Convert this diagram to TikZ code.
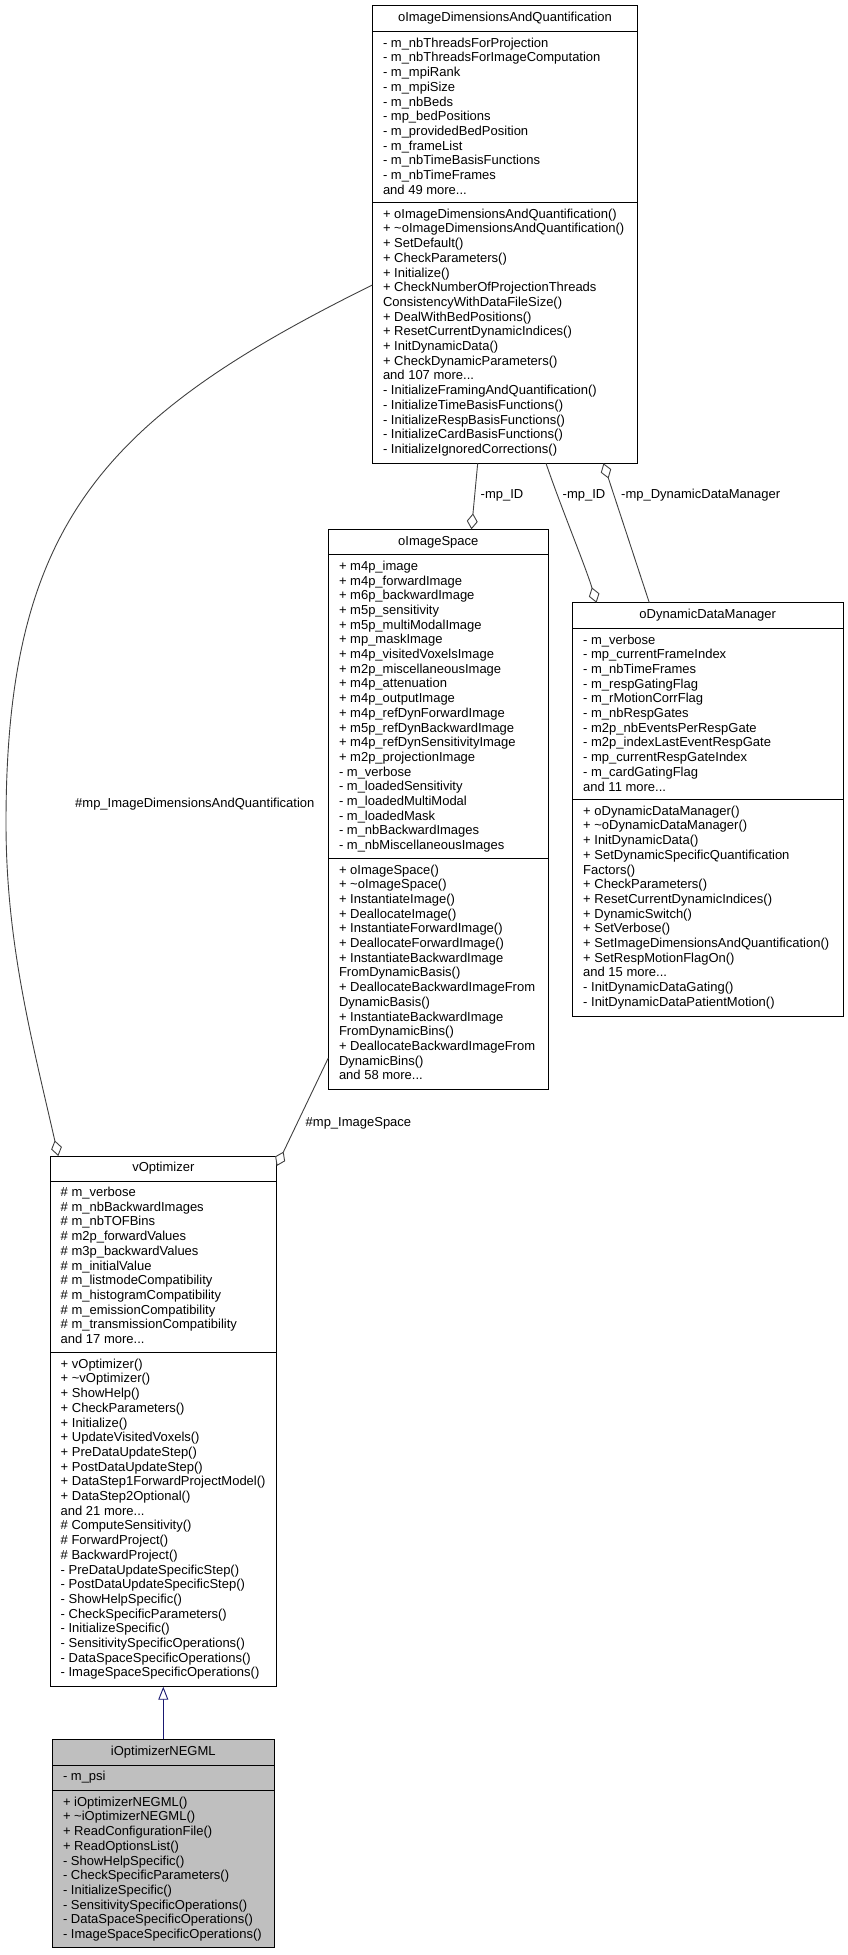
\documentclass[tikz,border=0pt]{standalone}
\usepackage{fontspec}
\setmainfont{Liberation Sans}
\usetikzlibrary{arrows.meta,calc}
\definecolor{edgec}{HTML}{404040}
\definecolor{navyc}{HTML}{191970}
\definecolor{graybg}{HTML}{BFBFBF}
\newcommand\fs{\fontsize{13pt}{14.7pt}\selectfont}
\newcommand\mystrut{\rule{0pt}{11pt}}
\tikzset{
  cls/.style={draw=black, line width=1pt, fill=white, inner sep=0pt, outer sep=0pt, anchor=north west},
  ttl/.style={anchor=base, inner sep=0pt, font=\fs},
  sec/.style={anchor=north west, align=left, inner sep=0pt, font=\fs},
  lbl/.style={anchor=base west, inner sep=0pt, font=\fs},
  sepl/.style={draw=black, line width=1pt},
  agg/.style={draw=edgec, line width=0.9pt, -{Diamond[length=16pt,width=11pt,fill=white]}},
  inh/.style={draw=navyc, line width=0.9pt, -{Triangle[length=13pt,width=10pt,fill=white]}}
}
\begin{document}
\begin{tikzpicture}[x=1pt,y=-1pt]
\useasboundingbox (0,0) rectangle (848,1955);

% ---------- oImageDimensionsAndQuantification ----------
\node[cls, minimum width=265.4pt, minimum height=457.6pt] (A) at (372.3,5.7) {};
\draw[sepl] ($(A.north west)+(0,26)$) -- ($(A.north east)+(0,26)$);
\draw[sepl] ($(A.north west)+(0,197)$) -- ($(A.north east)+(0,197)$);
\node[ttl] (A-t) at ($(A.north)+(0,15.7)$) {oImageDimensionsAndQuantification};
\node[sec] (A-a) at ($(A.north west)+(10.5,30.3)$) {\mystrut - m\_nbThreadsForProjection\\
- m\_nbThreadsForImageComputation\\
- m\_mpiRank\\
- m\_mpiSize\\
- m\_nbBeds\\
- mp\_bedPositions\\
- m\_providedBedPosition\\
- m\_frameList\\
- m\_nbTimeBasisFunctions\\
- m\_nbTimeFrames\\
and 49 more...};
\node[sec] (A-m) at ($(A.north west)+(10.5,201.3)$) {\mystrut + oImageDimensionsAndQuantification()\\
+ \textasciitilde oImageDimensionsAndQuantification()\\
+ SetDefault()\\
+ CheckParameters()\\
+ Initialize()\\
+ CheckNumberOfProjectionThreads\\
ConsistencyWithDataFileSize()\\
+ DealWithBedPositions()\\
+ ResetCurrentDynamicIndices()\\
+ InitDynamicData()\\
+ CheckDynamicParameters()\\
and 107 more...\\
- InitializeFramingAndQuantification()\\
- InitializeTimeBasisFunctions()\\
- InitializeRespBasisFunctions()\\
- InitializeCardBasisFunctions()\\
- InitializeIgnoredCorrections()};

% ---------- oImageSpace ----------
\node[cls, minimum width=220pt, minimum height=560pt] (B) at (328.3,529.3) {};
\draw[sepl] ($(B.north west)+(0,25.5)$) -- ($(B.north east)+(0,25.5)$);
\draw[sepl] ($(B.north west)+(0,329.2)$) -- ($(B.north east)+(0,329.2)$);
\node[ttl] (B-t) at ($(B.north)+(0,15.7)$) {oImageSpace};
\node[sec] (B-a) at ($(B.north west)+(10.5,29.8)$) {\mystrut + m4p\_image\\
+ m4p\_forwardImage\\
+ m6p\_backwardImage\\
+ m5p\_sensitivity\\
+ m5p\_multiModalImage\\
+ mp\_maskImage\\
+ m4p\_visitedVoxelsImage\\
+ m2p\_miscellaneousImage\\
+ m4p\_attenuation\\
+ m4p\_outputImage\\
+ m4p\_refDynForwardImage\\
+ m5p\_refDynBackwardImage\\
+ m4p\_refDynSensitivityImage\\
+ m2p\_projectionImage\\
- m\_verbose\\
- m\_loadedSensitivity\\
- m\_loadedMultiModal\\
- m\_loadedMask\\
- m\_nbBackwardImages\\
- m\_nbMiscellaneousImages};
\node[sec] (B-m) at ($(B.north west)+(10.5,333.5)$) {\mystrut + oImageSpace()\\
+ \textasciitilde oImageSpace()\\
+ InstantiateImage()\\
+ DeallocateImage()\\
+ InstantiateForwardImage()\\
+ DeallocateForwardImage()\\
+ InstantiateBackwardImage\\
FromDynamicBasis()\\
+ DeallocateBackwardImageFrom\\
DynamicBasis()\\
+ InstantiateBackwardImage\\
FromDynamicBins()\\
+ DeallocateBackwardImageFrom\\
DynamicBins()\\
and 58 more...};

% ---------- oDynamicDataManager ----------
\node[cls, minimum width=270.5pt, minimum height=413.3pt] (C) at (572.5,602.7) {};
\draw[sepl] ($(C.north west)+(0,25.8)$) -- ($(C.north east)+(0,25.8)$);
\draw[sepl] ($(C.north west)+(0,197)$) -- ($(C.north east)+(0,197)$);
\node[ttl] (C-t) at ($(C.north)+(0,15.7)$) {oDynamicDataManager};
\node[sec] (C-a) at ($(C.north west)+(10.5,30.1)$) {\mystrut - m\_verbose\\
- mp\_currentFrameIndex\\
- m\_nbTimeFrames\\
- m\_respGatingFlag\\
- m\_rMotionCorrFlag\\
- m\_nbRespGates\\
- m2p\_nbEventsPerRespGate\\
- m2p\_indexLastEventRespGate\\
- mp\_currentRespGateIndex\\
- m\_cardGatingFlag\\
and 11 more...};
\node[sec] (C-m) at ($(C.north west)+(10.5,201.3)$) {\mystrut + oDynamicDataManager()\\
+ \textasciitilde oDynamicDataManager()\\
+ InitDynamicData()\\
+ SetDynamicSpecificQuantification\\
Factors()\\
+ CheckParameters()\\
+ ResetCurrentDynamicIndices()\\
+ DynamicSwitch()\\
+ SetVerbose()\\
+ SetImageDimensionsAndQuantification()\\
+ SetRespMotionFlagOn()\\
and 15 more...\\
- InitDynamicDataGating()\\
- InitDynamicDataPatientMotion()};

% ---------- vOptimizer ----------
\node[cls, minimum width=226.7pt, minimum height=530.7pt] (D) at (50,1156) {};
\draw[sepl] ($(D.north west)+(0,25)$) -- ($(D.north east)+(0,25)$);
\draw[sepl] ($(D.north west)+(0,196.7)$) -- ($(D.north east)+(0,196.7)$);
\node[ttl] (D-t) at ($(D.north)+(0,15.7)$) {vOptimizer};
\node[sec] (D-a) at ($(D.north west)+(10.5,29.3)$) {\mystrut \# m\_verbose\\
\# m\_nbBackwardImages\\
\# m\_nbTOFBins\\
\# m2p\_forwardValues\\
\# m3p\_backwardValues\\
\# m\_initialValue\\
\# m\_listmodeCompatibility\\
\# m\_histogramCompatibility\\
\# m\_emissionCompatibility\\
\# m\_transmissionCompatibility\\
and 17 more...};
\node[sec] (D-m) at ($(D.north west)+(10.5,201)$) {\mystrut + vOptimizer()\\
+ \textasciitilde vOptimizer()\\
+ ShowHelp()\\
+ CheckParameters()\\
+ Initialize()\\
+ UpdateVisitedVoxels()\\
+ PreDataUpdateStep()\\
+ PostDataUpdateStep()\\
+ DataStep1ForwardProjectModel()\\
+ DataStep2Optional()\\
and 21 more...\\
\# ComputeSensitivity()\\
\# ForwardProject()\\
\# BackwardProject()\\
- PreDataUpdateSpecificStep()\\
- PostDataUpdateSpecificStep()\\
- ShowHelpSpecific()\\
- CheckSpecificParameters()\\
- InitializeSpecific()\\
- SensitivitySpecificOperations()\\
- DataSpaceSpecificOperations()\\
- ImageSpaceSpecificOperations()};

% ---------- iOptimizerNEGML ----------
\node[cls, fill=graybg, minimum width=222pt, minimum height=208pt] (E) at (52.3,1739.3) {};
\draw[sepl] ($(E.north west)+(0,26)$) -- ($(E.north east)+(0,26)$);
\draw[sepl] ($(E.north west)+(0,51.4)$) -- ($(E.north east)+(0,51.4)$);
\node[ttl] (E-t) at ($(E.north)+(0,16.5)$) {iOptimizerNEGML};
\node[sec] (E-a) at ($(E.north west)+(10.5,30.3)$) {\mystrut - m\_psi};
\node[sec] (E-m) at ($(E.north west)+(10.5,55.7)$) {\mystrut + iOptimizerNEGML()\\
+ \textasciitilde iOptimizerNEGML()\\
+ ReadConfigurationFile()\\
+ ReadOptionsList()\\
- ShowHelpSpecific()\\
- CheckSpecificParameters()\\
- InitializeSpecific()\\
- SensitivitySpecificOperations()\\
- DataSpaceSpecificOperations()\\
- ImageSpaceSpecificOperations()};

% ---------- connector end points ----------
\coordinate (ab1) at ($(A.south west)+(105.4,0)$);
\coordinate (ab2) at ($(B.north west)+(143.2,0)$);
\coordinate (ac1) at ($(A.south west)+(173.7,0)$);
\coordinate (ac2) at ($(C.north west)+(24,0)$);
\coordinate (ca1) at ($(C.north west)+(76.8,0)$);
\coordinate (ca2) at ($(A.south west)+(231.2,0)$);
\coordinate (bd1) at ($(B.north west)+(0,528.7)$);
\coordinate (bd2) at ($(D.north east)+(0,10)$);
\coordinate (ad1) at ($(A.north west)+(0,279.3)$);
\coordinate (ad3) at (6,823);
\coordinate (ad2) at ($(D.north west)+(8.3,0)$);

% ---------- connectors ----------
\draw[agg] (ab1) -- (ab2);
\draw[agg] (ac1) .. controls (562,510) and (585,565) .. (ac2);
\draw[agg] (ca1) -- (ca2);
\draw[agg] (bd1) -- (bd2);
\draw[agg] (ad1) .. controls (103.5,418) and (6,523) .. (ad3) .. controls (6,943) and (31.7,1039) .. (ad2);
\draw[inh] (E.north) -- (E.north |- D.south);

% ---------- labels ----------
\node[lbl] (l1) at (480.5,498.5) {-mp\_ID};
\node[lbl] (l2) at (562.5,498.5) {-mp\_ID};
\node[lbl] (l3) at (621,498.5) {-mp\_DynamicDataManager};
\node[lbl] (l4) at (305.5,1126) {\#mp\_ImageSpace};
\node[lbl] (l5) at (75,807.5) {\#mp\_ImageDimensionsAndQuantification};
\end{tikzpicture}
\end{document}
